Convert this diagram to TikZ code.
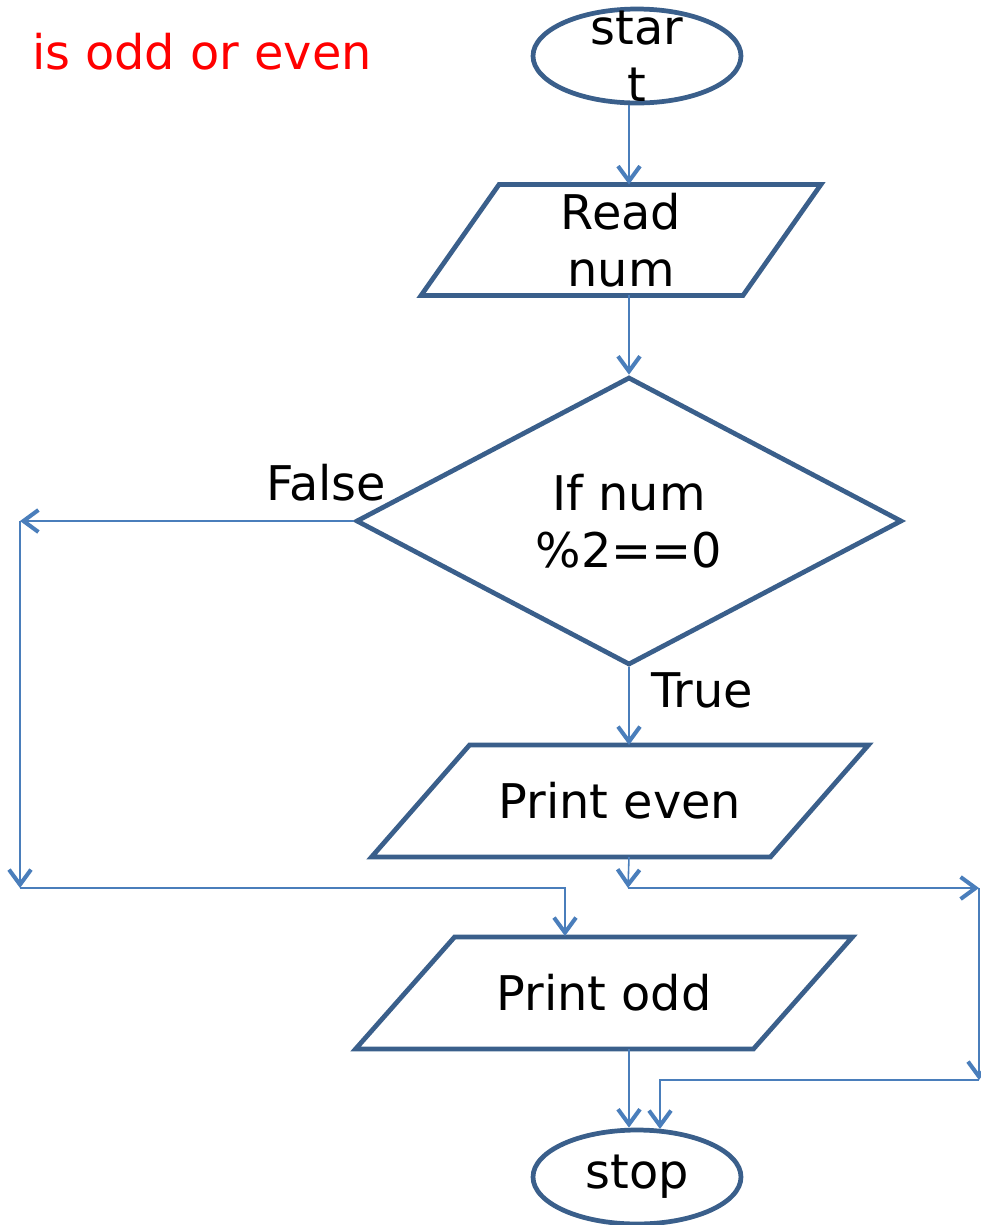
\documentclass[tikz,border=0pt]{standalone}
\usepackage{fontspec}
\setmainfont{DejaVu Sans}
\usepackage{tikz}
\usetikzlibrary{arrows.meta,positioning,calc,shapes.geometric}
\definecolor{boxBlue}{HTML}{3A5F8B}
\definecolor{lineBlue}{HTML}{4A7EBB}
\definecolor{titleRed}{HTML}{FF0000}
\begin{document}
\begin{tikzpicture}[x=0.02cm,y=-0.02cm,font=\fontsize{27.2}{32.5}\selectfont,
  >={Straight Barb[length=0.3cm,width=0.44cm,line width=2.3pt]},
  conn/.style={->,lineBlue,line width=0.9pt},
  shapeline/.style={draw=boxBlue,line width=2.7pt,line join=miter},
  term/.style={ellipse,shapeline,minimum width=4.16cm,minimum height=1.88cm,inner sep=0pt},
  io/.style={rectangle,inner sep=0pt,outer sep=0pt,align=center},
  decide/.style={diamond,shapeline,minimum width=10.92cm,minimum height=5.76cm,inner sep=0pt,align=center}]
\useasboundingbox (0,0) rectangle (981,1225);
\node[titleRed] (title) at (202,52) {is odd or even};
\node[term,label={[align=center]center:star\\t}] (start) at (637,56) {};
\node[io,minimum width=8cm,minimum height=2.22cm] (read) at (621,240) {Read\\num};
\node[decide] (dec) at (629,521) {If num\\\%2==0};
\node[io,minimum width=9.94cm,minimum height=2.24cm] (even) at (620,801) {Print even};
\node[io,minimum width=9.94cm,minimum height=2.24cm] (odd) at (604,993) {Print odd};
\node[term] (stop) at (637,1177) {stop};
\node (falselbl) at (326,483) {False};
\node (truelbl) at (702,690) {True};
\draw[shapeline] ($(read.north west)+(78,0)$) -- (read.north east) -- ($(read.south east)-(78,0)$) -- (read.south west) -- cycle;
\draw[shapeline] ($(even.north west)+(98,0)$) -- (even.north east) -- ($(even.south east)-(98,0)$) -- (even.south west) -- cycle;
\draw[shapeline] ($(odd.north west)+(99,0)$) -- (odd.north east) -- ($(odd.south east)-(99,0)$) -- (odd.south west) -- cycle;
\coordinate (fl) at (20,521);
\coordinate (fb) at (20,888);
\coordinate (oddin) at (565,936);
\coordinate (ej) at (628,888);
\coordinate (er) at (979,888);
\coordinate (ebr) at (979,1080);
\coordinate (stopin) at (660,1129);
\draw[conn] (start.south -| dec) -- (read.north -| dec);
\draw[conn] (read.south -| dec) -- (dec.north);
\draw[conn] (dec.south) -- (even.north -| dec);
\draw[conn] (dec.west) -- (fl);
\draw[conn] (fl) -- (fb);
\draw[conn] (fb) -| (oddin);
\draw[conn] (even.south -| dec) -- (ej);
\draw[conn] (ej) -- (er);
\draw[conn] (er) -- (ebr);
\draw[conn] (ebr) -| (stopin);
\draw[conn] (odd.south -| dec) -- (stop.north -| dec);
\end{tikzpicture}
\end{document}
